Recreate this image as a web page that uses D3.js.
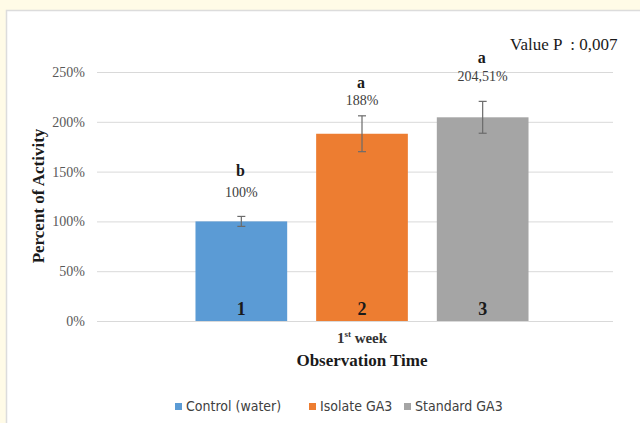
<!DOCTYPE html>
<html>
<head>
<meta charset="utf-8">
<script src="https://cdn.jsdelivr.net/npm/d3@7"></script>
<style>
  html, body { margin: 0; padding: 0; background: #fffbe7; }
  svg { display: block; }
</style>
</head>
<body>
<svg id="chart" width="640" height="423"></svg>
<script>
// Treatments and their measured activity (% of control)
const categories = ["Control (water)", "Isolate GA3", "Standard GA3"];
const values = [100, 188, 204.51];
const errors = [5, 18, 16];
const valueLabels = ["100%", "188%", "204,51%"];
const groupLetters = ["b", "a", "a"];
const barNumbers = ["1", "2", "3"];
const colors = ["#5b9bd5", "#ed7d31", "#a5a5a5"];
const yTicks = [0, 50, 100, 150, 200, 250];

// Hand-placed label offsets (px above the top of each error bar)
const valueLabelOffset = [19, 11, 20];
const letterOffset = [40, 28, 38];

const svg = d3.select("#chart");
const serif = "'Liberation Serif', 'Times New Roman', serif";

// White chart panel with a light frame
svg.append("rect")
  .attr("x", 6.5).attr("y", 10.5)
  .attr("width", 700).attr("height", 500)
  .attr("fill", "#ffffff")
  .attr("stroke", "#dcdcdc").attr("stroke-width", 1.5);

const plot = { left: 97, right: 613, top: 72, bottom: 321 };

const y = d3.scaleLinear().domain([0, 250]).range([plot.bottom, plot.top]);
const x = d3.scaleBand().domain(categories).range([181, 543]).paddingInner(0.24).paddingOuter(0.12);

// Gridlines
svg.append("g")
  .selectAll("line")
  .data(yTicks)
  .join("line")
  .attr("x1", plot.left).attr("x2", plot.right)
  .attr("y1", d => y(d) + 0.5).attr("y2", d => y(d) + 0.5)
  .attr("stroke", "#d9d9d9").attr("stroke-width", 1);

// Y axis labels
const yAxis = d3.axisLeft(y).tickValues(yTicks).tickFormat(d => d + "%").tickSize(0).tickPadding(0);
const yg = svg.append("g").attr("transform", `translate(85,0)`).call(yAxis);
yg.select(".domain").remove();
yg.selectAll("text")
  .attr("font-family", serif).attr("font-size", 14).attr("fill", "#595959");

// Bars
svg.append("g")
  .selectAll("rect")
  .data(values)
  .join("rect")
  .attr("x", (d, i) => x(categories[i]))
  .attr("width", x.bandwidth())
  .attr("y", d => y(d))
  .attr("height", d => y(0) - y(d))
  .attr("fill", (d, i) => colors[i]);

// Error bars
const eb = svg.append("g").attr("stroke", "#6b6b6b").attr("stroke-width", 1.2);
values.forEach((v, i) => {
  const cx = x(categories[i]) + x.bandwidth() / 2;
  const lo = y(v - errors[i]), hi = y(v + errors[i]);
  eb.append("line").attr("x1", cx).attr("x2", cx).attr("y1", lo).attr("y2", hi);
  eb.append("line").attr("x1", cx - 4).attr("x2", cx + 4).attr("y1", lo).attr("y2", lo);
  eb.append("line").attr("x1", cx - 4).attr("x2", cx + 4).attr("y1", hi).attr("y2", hi);
});

// Value labels and significance letters above each bar
values.forEach((v, i) => {
  const cx = x(categories[i]) + x.bandwidth() / 2;
  const top = y(v + errors[i]);
  svg.append("text")
    .attr("x", cx).attr("y", top - valueLabelOffset[i])
    .attr("text-anchor", "middle")
    .attr("font-family", serif).attr("font-size", 14).attr("fill", "#404040")
    .text(valueLabels[i]);
  svg.append("text")
    .attr("x", cx - 1).attr("y", top - letterOffset[i])
    .attr("text-anchor", "middle")
    .attr("font-family", serif).attr("font-size", 16).attr("font-weight", "bold").attr("fill", "#1a1a1a")
    .text(groupLetters[i]);
  svg.append("text")
    .attr("x", cx).attr("y", y(0) - 6)
    .attr("text-anchor", "middle")
    .attr("font-family", serif).attr("font-size", 18).attr("font-weight", "bold").attr("fill", "#1a1a1a")
    .text(barNumbers[i]);
});

// P value annotation
svg.append("text")
  .attr("x", 510).attr("y", 50)
  .attr("font-family", serif).attr("font-size", 17).attr("fill", "#1a1a1a")
  .attr("xml:space", "preserve")
  .text("Value P  : 0,007");

// Category label and axis title
const cat = svg.append("text")
  .attr("x", 362).attr("y", 343)
  .attr("text-anchor", "middle")
  .attr("font-family", serif).attr("font-size", 15).attr("font-weight", "bold").attr("fill", "#333");
cat.append("tspan").text("1");
cat.append("tspan").attr("dy", -6).attr("font-size", 9).text("st");
cat.append("tspan").attr("dy", 6).text(" week");

svg.append("text")
  .attr("x", 362).attr("y", 366)
  .attr("text-anchor", "middle")
  .attr("font-family", serif).attr("font-size", 17).attr("font-weight", "bold").attr("fill", "#1a1a1a")
  .text("Observation Time");

svg.append("text")
  .attr("transform", "translate(44,196) rotate(-90)")
  .attr("text-anchor", "middle")
  .attr("font-family", serif).attr("font-size", 17).attr("font-weight", "bold").attr("fill", "#1a1a1a")
  .text("Percent of Activity");

// Legend
const legendX = [175, 309, 404];
const lg = svg.append("g");
categories.forEach((c, i) => {
  lg.append("rect")
    .attr("x", legendX[i]).attr("y", 403)
    .attr("width", 7).attr("height", 7)
    .attr("fill", colors[i]);
  lg.append("text")
    .attr("x", legendX[i] + 11).attr("y", 411)
    .attr("font-family", "'DejaVu Sans Condensed', 'Liberation Sans Narrow', sans-serif")
    .attr("font-size", 14).attr("fill", "#404040")
    .text(c);
});
</script>
</body>
</html>
